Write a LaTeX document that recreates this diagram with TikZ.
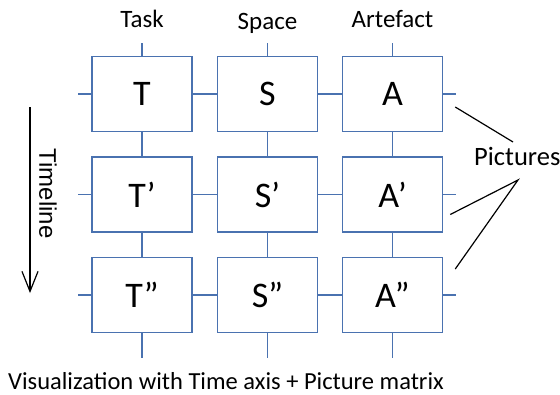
\documentclass[tikz,border=0pt]{standalone}
\usepackage{fontspec}
\setmainfont{Carlito}
\newfontfamily\arialfont{Liberation Sans}
\usetikzlibrary{arrows.meta,calc}
\definecolor{boxblue}{RGB}{74,114,176}

\begin{document}
\begin{tikzpicture}[x=1pt,y=1pt,
  cell/.style={draw=boxblue,line width=1.5pt,minimum width=100pt,minimum height=75pt,inner sep=0pt,font=\fontsize{36}{36}\selectfont},
  stub/.style={draw=boxblue,line width=1.5pt},
  head/.style={anchor=base,inner sep=0pt,font=\fontsize{25}{25}\selectfont}]
\useasboundingbox (0,0) rectangle (560,-394);
% the picture matrix
\node[cell] (t0) at (142,-94) {T};
\node[cell] (s0) at (267.5,-94) {S};
\node[cell] (a0) at (392.5,-94) {A};
\node[cell] (t1) at (142,-194.5) {T’};
\node[cell] (s1) at (267.5,-194.5) {S’};
\node[cell] (a1) at (392.5,-194.5) {A’};
\node[cell] (t2) at (142,-295) {T”};
\node[cell] (s2) at (267.5,-295) {S”};
\node[cell] (a2) at (392.5,-295) {A”};
% links between cells
\draw[stub] (t0.east)--(s0.west) (s0.east)--(a0.west);
\draw[stub] (t1.east)--(s1.west) (s1.east)--(a1.west);
\draw[stub] (t2.east)--(s2.west) (s2.east)--(a2.west);
\draw[stub] (t0.south)--(t1.north) (t1.south)--(t2.north);
\draw[stub] (s0.south)--(s1.north) (s1.south)--(s2.north);
\draw[stub] (a0.south)--(a1.north) (a1.south)--(a2.north);
% open ends
\draw[stub] (t0.north)--++(0,13) (s0.north)--++(0,13) (a0.north)--++(0,13);
\draw[stub] (t2.south)--++(0,-25) (s2.south)--++(0,-25) (a2.south)--++(0,-25);
\draw[stub] (t0.west)--++(-13,0) (t1.west)--++(-13,0) (t2.west)--++(-13,0);
\draw[stub] (a0.east)--++(13,0) (a1.east)--++(13,0) (a2.east)--++(13,0);
% column titles
\node[head] (task) at (142,-27) {Task};
\node[head] (space) at (267.5,-29.5) {Space};
\node[head] (artefact) at (392.5,-27) {Artefact};
% time axis
\coordinate (timetop) at (30,-107);
\coordinate (timeend) at (30,-293);
\draw[line width=1.2pt,-{Straight Barb[length=20pt,width=16pt]}] (timetop)--(timeend);
\node[rotate=-90,inner sep=0pt,font=\arialfont\fontsize{24}{24}\selectfont] (timeline) at (48,-193.5) {Timeline};
% pictures
\node[head,anchor=base west,font=\fontsize{26.5}{26.5}\selectfont] (pictures) at (474,-165) {Pictures};
\coordinate (pictop) at (513,-142);
\coordinate (picbot) at (518,-180);
\draw[line width=1.2pt] ($(a0.east)+(12,-13)$)--(pictop);
\draw[line width=1.2pt] ($(a1.east)+(7,-20)$)--(picbot)--($(a2.east)+(12,26)$);
% caption
\node[inner sep=0pt,anchor=base west,font=\fontsize{24.5}{24.5}\selectfont] (caption) at (8,-389) {Visualization with Time axis + Picture matrix};
\end{tikzpicture}
\end{document}
